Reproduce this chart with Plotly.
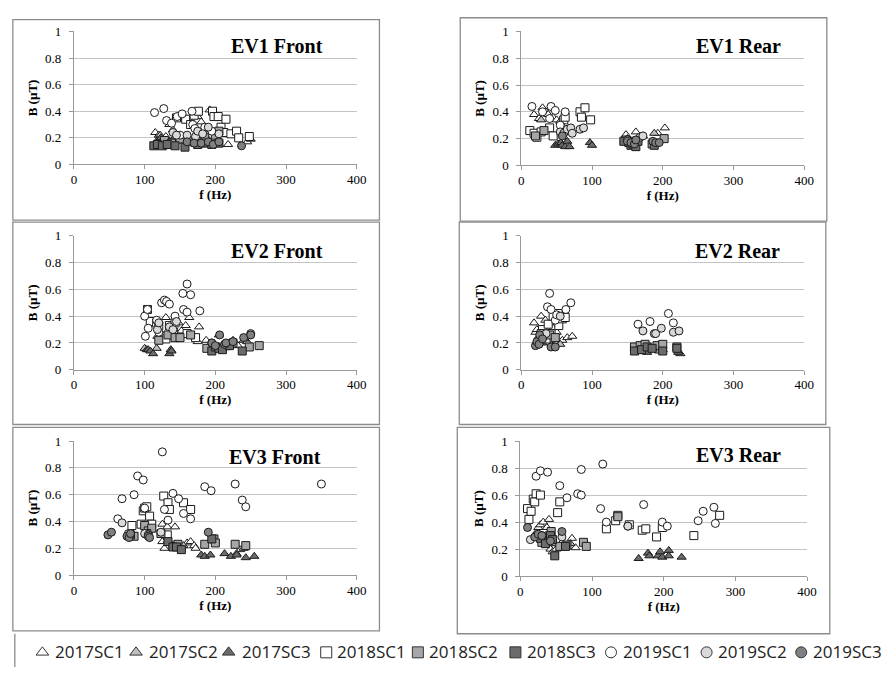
import plotly.graph_objects as go

# ---------------- data ----------------
series_names = ["2017SC1", "2017SC2", "2017SC3", "2018SC1", "2018SC2", "2018SC3",
                "2019SC1", "2019SC2", "2019SC3"]
series_symbols = ["triangle-up", "triangle-up", "triangle-up", "square", "square", "square",
                  "circle", "circle", "circle"]
series_fills = ["#ffffff", "#bfbfbf", "#6b6b6b", "#ffffff", "#a6a6a6", "#6b6b6b",
                "#ffffff", "#d9d9d9", "#808080"]

panel_titles = ["EV1 Front", "EV1 Rear", "EV2 Front", "EV2 Rear", "EV3 Front", "EV3 Rear"]
x_ticks = [0, 100, 200, 300, 400]
y_ticks = [0, 0.2, 0.4, 0.6, 0.8, 1]

# order of inner lists = series_names order
ev1_front_f = [
    [115, 120, 130, 135, 150, 165, 175, 180, 192, 200, 218, 245],
    [122, 140, 158, 172, 188, 190, 250],
    [118, 123, 128, 135, 142, 165, 172, 178, 185, 205],
    [145, 158, 165, 170, 176, 196, 198, 204, 208, 215, 212, 222, 230, 233, 248],
    [128, 138, 150, 175, 185, 200, 205],
    [113, 118, 125, 132, 143, 157, 175, 185, 195, 205],
    [114, 127, 131, 138, 146, 153, 167, 168, 171, 185, 195, 150],
    [140, 145, 160, 172, 175, 182, 190, 205],
    [160, 170, 180, 190, 197, 205, 237],
]
ev1_front_b = [
    [0.24, 0.22, 0.21, 0.30, 0.35, 0.32, 0.36, 0.32, 0.41, 0.24, 0.15, 0.17],
    [0.22, 0.26, 0.20, 0.21, 0.20, 0.26, 0.19],
    [0.18, 0.20, 0.16, 0.17, 0.20, 0.16, 0.15, 0.17, 0.18, 0.15],
    [0.35, 0.34, 0.30, 0.37, 0.40, 0.40, 0.36, 0.36, 0.28, 0.34, 0.24, 0.23, 0.25, 0.20, 0.21],
    [0.18, 0.16, 0.19, 0.17, 0.20, 0.22, 0.25],
    [0.14, 0.15, 0.14, 0.15, 0.14, 0.13, 0.15, 0.16, 0.15, 0.16],
    [0.39, 0.42, 0.33, 0.31, 0.36, 0.38, 0.40, 0.30, 0.27, 0.28, 0.25, 0.22],
    [0.24, 0.22, 0.22, 0.21, 0.25, 0.23, 0.28, 0.23],
    [0.17, 0.16, 0.16, 0.17, 0.15, 0.17, 0.14],
]

ev1_rear_f = [
    [18, 25, 30, 35, 38, 45, 50, 148, 162, 193, 203],
    [28, 55, 60, 150, 172, 188],
    [48, 52, 56, 58, 62, 65, 68, 97, 100],
    [12, 18, 22, 28, 40, 45, 60, 62, 83, 85, 90, 98],
    [20, 32, 60, 148, 158, 185, 202],
    [145, 152, 155, 158, 162, 165, 188],
    [15, 30, 40, 42, 48, 55, 62],
    [55, 60, 65, 70, 72, 83, 88, 150, 168, 172],
    [58, 150, 155, 160, 162, 186, 190, 195],
]
ev1_rear_b = [
    [0.38, 0.35, 0.43, 0.40, 0.38, 0.36, 0.34, 0.23, 0.25, 0.24, 0.28],
    [0.34, 0.33, 0.28, 0.20, 0.22, 0.24],
    [0.15, 0.16, 0.17, 0.15, 0.14, 0.18, 0.14, 0.17, 0.15],
    [0.26, 0.24, 0.21, 0.25, 0.28, 0.22, 0.34, 0.36, 0.40, 0.36, 0.43, 0.34],
    [0.22, 0.26, 0.26, 0.19, 0.18, 0.16, 0.20],
    [0.18, 0.17, 0.15, 0.16, 0.14, 0.18, 0.15],
    [0.44, 0.40, 0.35, 0.44, 0.41, 0.30, 0.40],
    [0.25, 0.24, 0.27, 0.28, 0.24, 0.27, 0.28, 0.19, 0.21, 0.22],
    [0.22, 0.18, 0.17, 0.16, 0.19, 0.18, 0.17, 0.17],
]

ev2_front_f = [
    [118, 130, 148, 152, 158, 163, 175, 177, 187, 232, 240],
    [100, 117, 200, 225, 245],
    [103, 105, 108, 112, 135, 137, 138, 205, 242],
    [104, 108, 117, 120, 125, 130, 135, 141, 143, 160, 172],
    [120, 133, 143, 150, 165, 188, 215, 225, 248, 262],
    [195, 200, 205, 210, 220, 238],
    [100, 101, 104, 105, 117, 120, 124, 128, 131, 135, 143, 154, 155, 160, 160, 165, 178],
    [118, 120, 135, 140, 145, 195, 250],
    [195, 200, 206, 213, 215, 225, 240, 250],
]
ev2_front_b = [
    [0.25, 0.39, 0.35, 0.29, 0.33, 0.39, 0.21, 0.32, 0.22, 0.18, 0.22],
    [0.16, 0.16, 0.18, 0.22, 0.21],
    [0.15, 0.15, 0.14, 0.12, 0.12, 0.15, 0.14, 0.26, 0.23],
    [0.45, 0.36, 0.35, 0.33, 0.25, 0.23, 0.33, 0.28, 0.35, 0.27, 0.24],
    [0.22, 0.26, 0.24, 0.24, 0.26, 0.16, 0.18, 0.20, 0.17, 0.18],
    [0.14, 0.17, 0.16, 0.15, 0.18, 0.14],
    [0.40, 0.25, 0.45, 0.31, 0.37, 0.28, 0.50, 0.52, 0.51, 0.49, 0.40, 0.57, 0.45, 0.64, 0.43, 0.56, 0.44],
    [0.30, 0.35, 0.32, 0.30, 0.36, 0.20, 0.27],
    [0.20, 0.18, 0.26, 0.19, 0.20, 0.21, 0.24, 0.26],
]

ev2_rear_f = [
    [18, 20, 22, 28, 34, 40, 45, 50, 58, 65, 72],
    [25, 35, 55, 175, 195, 225],
    [30, 45, 178, 182, 200, 222],
    [30, 35, 38, 42, 45, 52, 53, 58, 62],
    [28, 40, 48, 160, 168, 175, 192, 200, 220],
    [160, 170, 178, 185, 200, 220],
    [37, 40, 42, 48, 50, 63, 70, 165, 182, 208, 215],
    [35, 55, 172, 188, 190, 198, 215, 223],
    [20, 22, 25, 26, 30, 42, 48],
]
ev2_rear_b = [
    [0.35, 0.28, 0.30, 0.40, 0.37, 0.26, 0.31, 0.28, 0.22, 0.24, 0.25],
    [0.25, 0.22, 0.19, 0.14, 0.14, 0.12],
    [0.20, 0.18, 0.13, 0.16, 0.15, 0.13],
    [0.30, 0.23, 0.34, 0.27, 0.40, 0.42, 0.33, 0.38, 0.39],
    [0.27, 0.26, 0.24, 0.17, 0.18, 0.19, 0.18, 0.19, 0.17],
    [0.14, 0.15, 0.17, 0.16, 0.14, 0.16],
    [0.47, 0.57, 0.45, 0.37, 0.41, 0.45, 0.50, 0.34, 0.36, 0.42, 0.35],
    [0.27, 0.40, 0.29, 0.27, 0.27, 0.31, 0.28, 0.29],
    [0.18, 0.21, 0.19, 0.26, 0.23, 0.17, 0.17],
]

ev3_front_f = [
    [125, 125, 128, 132, 143, 160, 165, 170, 172, 235],
    [140, 155, 230, 240],
    [133, 180, 185, 193, 213, 222, 230, 243, 255],
    [82, 95, 98, 100, 103, 107, 110, 127, 132, 133, 135, 155, 165],
    [85, 100, 105, 110, 123, 147, 185, 198, 200, 228, 243],
    [80, 103, 133, 140, 145, 152, 195],
    [62, 68, 85, 90, 98, 100, 125, 128, 133, 140, 148, 155, 165, 185, 194, 228, 238, 243, 350],
    [68, 77, 100, 105, 123],
    [48, 53, 75, 78, 80, 105, 107, 190],
]
ev3_front_b = [
    [0.38, 0.25, 0.20, 0.36, 0.36, 0.24, 0.25, 0.22, 0.20, 0.19],
    [0.22, 0.22, 0.16, 0.20],
    [0.26, 0.15, 0.14, 0.15, 0.16, 0.14, 0.15, 0.13, 0.14],
    [0.37, 0.38, 0.48, 0.50, 0.51, 0.44, 0.38, 0.59, 0.30, 0.54, 0.49, 0.54, 0.49],
    [0.29, 0.37, 0.33, 0.35, 0.31, 0.23, 0.23, 0.27, 0.24, 0.23, 0.22],
    [0.30, 0.31, 0.25, 0.21, 0.21, 0.19, 0.27],
    [0.42, 0.57, 0.60, 0.74, 0.71, 0.50, 0.92, 0.49, 0.41, 0.61, 0.57, 0.46, 0.42, 0.66, 0.63, 0.68, 0.56, 0.51, 0.68],
    [0.39, 0.31, 0.31, 0.30, 0.32],
    [0.30, 0.32, 0.29, 0.28, 0.31, 0.29, 0.28, 0.32],
]

ev3_rear_f = [
    [20, 25, 28, 32, 37, 38, 40, 42, 45, 50, 58, 72, 77],
    [22, 35, 48, 70],
    [62, 165, 178, 180, 192, 195, 198, 207, 207, 225],
    [10, 12, 15, 18, 20, 22, 28, 52, 55, 120, 133, 136, 152, 170, 175, 190, 198, 242, 278],
    [30, 43, 55, 65, 88, 92, 136],
    [28, 35, 42, 45, 48, 63],
    [22, 28, 38, 55, 65, 80, 85, 85, 112, 115, 120, 150, 172, 198, 205, 248, 255, 270, 272],
    [14, 30, 58, 150],
    [10, 20, 25, 30, 42, 58],
]
ev3_rear_b = [
    [0.30, 0.36, 0.38, 0.40, 0.36, 0.23, 0.42, 0.20, 0.18, 0.20, 0.25, 0.28, 0.21],
    [0.32, 0.30, 0.24, 0.24],
    [0.23, 0.13, 0.17, 0.15, 0.15, 0.18, 0.14, 0.19, 0.15, 0.14],
    [0.50, 0.42, 0.48, 0.57, 0.55, 0.61, 0.60, 0.47, 0.55, 0.35, 0.41, 0.45, 0.38, 0.34, 0.35, 0.29, 0.36, 0.30, 0.45],
    [0.25, 0.33, 0.22, 0.23, 0.25, 0.22, 0.44],
    [0.28, 0.24, 0.30, 0.27, 0.15, 0.22],
    [0.74, 0.78, 0.77, 0.67, 0.58, 0.61, 0.79, 0.60, 0.50, 0.83, 0.40, 0.37, 0.53, 0.40, 0.37, 0.41, 0.48, 0.51, 0.39],
    [0.27, 0.30, 0.29, 0.37],
    [0.36, 0.29, 0.31, 0.30, 0.26, 0.33],
]

panel_f = [ev1_front_f, ev1_rear_f, ev2_front_f, ev2_rear_f, ev3_front_f, ev3_rear_f]
panel_b = [ev1_front_b, ev1_rear_b, ev2_front_b, ev2_rear_b, ev3_front_b, ev3_rear_b]

# ---------------- layout geometry (pixels) ----------------
W, H = 892, 675
# plot areas: (left, right, top, bottom)
plot_px = [(72, 359, 25, 161), (526, 813, 25, 162),
           (72, 359, 234, 371), (526, 813, 234, 371),
           (72, 359, 444, 581), (525, 816, 444, 582)]
# bordered boxes
box_px = [(10, 382, 13, 218), (464, 836, 11, 219),
          (10, 382, 220, 427), (463, 835, 220, 427),
          (10, 382, 430, 638), (461, 839, 430, 641)]
title_px = [(278, 40), (746, 40), (278, 250), (745, 250), (276, 460), (746, 458)]
# legend strip: symbol centres and text starts (pixels)
legend_sym_px = [40, 135, 229, 328, 421, 520, 617, 714, 810]
legend_txt_px = [51, 146, 240, 337, 430, 530, 627, 724, 820]
legend_y_px = 659

def px_x(v):
    return v / W

def px_y(v):
    return 1 - v / H

fig = go.Figure()
serif = "Liberation Serif, Times New Roman, serif"

for p in range(6):
    suffix = "" if p == 0 else str(p + 1)
    for s in range(9):
        fig.add_trace(go.Scatter(
            x=panel_f[p][s], y=panel_b[p][s], mode="markers",
            name=series_names[s], legendgroup=series_names[s],
            showlegend=False,
            marker=dict(symbol=series_symbols[s], size=8, color=series_fills[s],
                        line=dict(color="#1a1a1a", width=1)),
            xaxis="x" + suffix, yaxis="y" + suffix,
        ))
    l, r, t, b = plot_px[p]
    axis_font = dict(family=serif, size=13, color="#000000")
    fig.layout["xaxis" + suffix] = dict(
        domain=[px_x(l), px_x(r)], range=[0, 400], tickvals=x_ticks,
        showgrid=False, zeroline=False, showline=True, linecolor="#9a9a9a",
        ticks="outside", ticklen=4, tickcolor="#9a9a9a", tickfont=axis_font,
        ticklabelstandoff=-1,
        anchor="y" + suffix, fixedrange=True,
        title=dict(text="<b>f (Hz)</b>", font=axis_font, standoff=3),
    )
    fig.layout["yaxis" + suffix] = dict(
        domain=[px_y(b), px_y(t)], range=[0, 1], tickvals=y_ticks,
        ticktext=["0", "0.2", "0.4", "0.6", "0.8", "1"],
        showgrid=True, gridcolor="#c4c4c4", gridwidth=1, zeroline=False,
        showline=True, linecolor="#9a9a9a",
        ticks="outside", ticklen=4, tickcolor="#9a9a9a", tickfont=axis_font,
        ticklabelstandoff=5,
        anchor="x" + suffix, fixedrange=True,
        title=dict(text="<b>B (µT)</b>", font=axis_font, standoff=4),
    )
    bl, br, bt, bb = box_px[p]
    fig.add_shape(type="rect", xref="paper", yref="paper",
                  x0=px_x(bl), x1=px_x(br), y0=px_y(bb), y1=px_y(bt),
                  line=dict(color="#8c8c8c", width=1.3), layer="below")
    tx, ty = title_px[p]
    fig.add_annotation(xref="paper", yref="paper", x=px_x(tx), y=px_y(ty),
                       text="<b>" + panel_titles[p] + "</b>", showarrow=False,
                       xanchor="center", yanchor="middle",
                       font=dict(family=serif, size=20, color="#000000"))

# ---- key strip along the bottom (symbol + label for each series) ----
fig.layout["xaxis7"] = dict(domain=[0, 1], range=[0, W], visible=False,
                            fixedrange=True, anchor="y7")
fig.layout["yaxis7"] = dict(domain=[0, px_y(641)], range=[H, 641], visible=False,
                            fixedrange=True, anchor="x7")
for s in range(9):
    fig.add_trace(go.Scatter(
        x=[legend_sym_px[s]], y=[legend_y_px + 1], mode="markers",
        marker=dict(symbol=series_symbols[s], size=11, color=series_fills[s],
                    line=dict(color="#333333", width=1)),
        xaxis="x7", yaxis="y7", showlegend=False, hoverinfo="skip", cliponaxis=False,
    ))
    fig.add_annotation(xref="x7", yref="y7", x=legend_txt_px[s], y=legend_y_px,
                       text=series_names[s], showarrow=False,
                       xanchor="left", yanchor="middle",
                       font=dict(family="Open Sans, sans-serif", size=17, color="#222222"))

# key strip left border line
fig.add_shape(type="line", xref="paper", yref="paper",
              x0=px_x(12), x1=px_x(12), y0=0, y1=px_y(641),
              line=dict(color="#8c8c8c", width=1.3))

fig.update_layout(
    width=W, height=H, margin=dict(l=0, r=0, t=0, b=0),
    paper_bgcolor="white", plot_bgcolor="white",
    showlegend=False,
)

fig.write_html("out.html", config={"displayModeBar": False},
               post_script="document.body.style.margin='0';")
